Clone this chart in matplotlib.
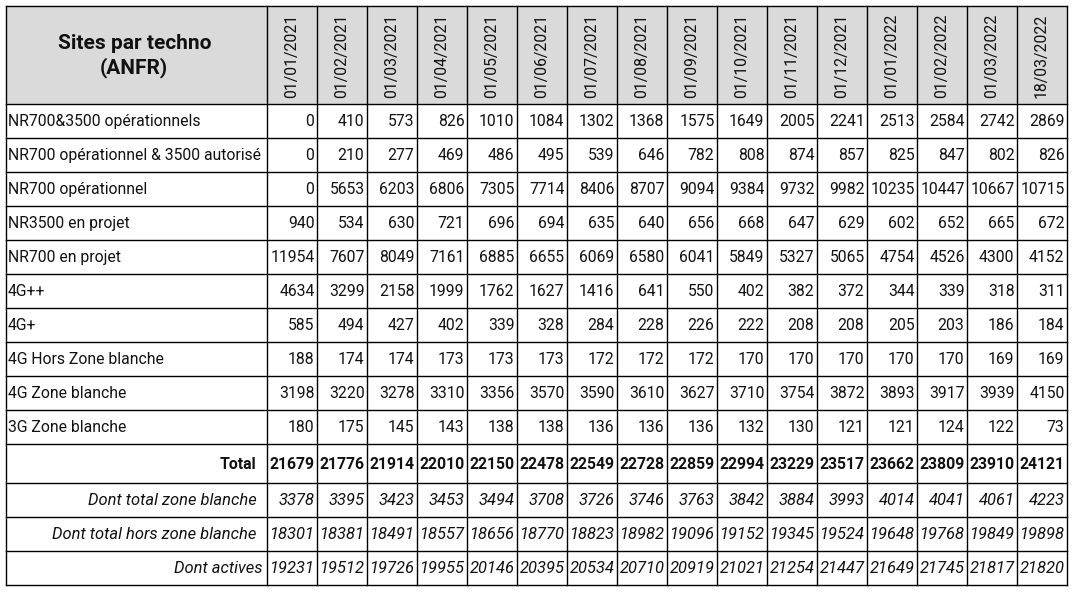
import matplotlib
matplotlib.use("Agg")
import matplotlib.pyplot as plt

title = "Sites par techno\n(ANFR)"
dates = ["01/01/2021", "01/02/2021", "01/03/2021", "01/04/2021", "01/05/2021",
         "01/06/2021", "01/07/2021", "01/08/2021", "01/09/2021", "01/10/2021",
         "01/11/2021", "01/12/2021", "01/01/2022", "01/02/2022", "01/03/2022",
         "18/03/2022"]

row_labels = ["NR700&3500 opérationnels", "NR700 opérationnel & 3500 autorisé",
              "NR700 opérationnel", "NR3500 en projet", "NR700 en projet",
              "4G++", "4G+", "4G Hors Zone blanche", "4G Zone blanche",
              "3G Zone blanche"]
nr700_3500_op = [0, 410, 573, 826, 1010, 1084, 1302, 1368, 1575, 1649, 2005, 2241, 2513, 2584, 2742, 2869]
nr700_op_3500_aut = [0, 210, 277, 469, 486, 495, 539, 646, 782, 808, 874, 857, 825, 847, 802, 826]
nr700_op = [0, 5653, 6203, 6806, 7305, 7714, 8406, 8707, 9094, 9384, 9732, 9982, 10235, 10447, 10667, 10715]
nr3500_projet = [940, 534, 630, 721, 696, 694, 635, 640, 656, 668, 647, 629, 602, 652, 665, 672]
nr700_projet = [11954, 7607, 8049, 7161, 6885, 6655, 6069, 6580, 6041, 5849, 5327, 5065, 4754, 4526, 4300, 4152]
g4pp = [4634, 3299, 2158, 1999, 1762, 1627, 1416, 641, 550, 402, 382, 372, 344, 339, 318, 311]
g4p = [585, 494, 427, 402, 339, 328, 284, 228, 226, 222, 208, 208, 205, 203, 186, 184]
g4_hors_zb = [188, 174, 174, 173, 173, 173, 172, 172, 172, 170, 170, 170, 170, 170, 169, 169]
g4_zb = [3198, 3220, 3278, 3310, 3356, 3570, 3590, 3610, 3627, 3710, 3754, 3872, 3893, 3917, 3939, 4150]
g3_zb = [180, 175, 145, 143, 138, 138, 136, 136, 136, 132, 130, 121, 121, 124, 122, 73]

total_label = "Total"
total = [21679, 21776, 21914, 22010, 22150, 22478, 22549, 22728, 22859, 22994, 23229, 23517, 23662, 23809, 23910, 24121]

sub_labels = ["Dont total zone blanche", "Dont total hors zone blanche", "Dont actives"]
dont_zb = [3378, 3395, 3423, 3453, 3494, 3708, 3726, 3746, 3763, 3842, 3884, 3993, 4014, 4041, 4061, 4223]
dont_hors_zb = [18301, 18381, 18491, 18557, 18656, 18770, 18823, 18982, 19096, 19152, 19345, 19524, 19648, 19768, 19849, 19898]
dont_actives = [19231, 19512, 19726, 19955, 20146, 20395, 20534, 20710, 20919, 21021, 21254, 21447, 21649, 21745, 21817, 21820]

body_rows = [nr700_3500_op, nr700_op_3500_aut, nr700_op, nr3500_projet, nr700_projet,
             g4pp, g4p, g4_hors_zb, g4_zb, g3_zb]
sub_rows = [dont_zb, dont_hors_zb, dont_actives]

# ---- layout (pixels) ----
W, H = 1076, 594
X0 = 6.0
LABEL_W = 260.5
COL_W = 50.0
Y0 = 6.0
HEAD_H = 98.0
ROW_H = 34.0
TOTAL_H = 39.3
FS = 11.3
FS_LABEL = 11.3
FS_IT = 11.9
FONT = "Roboto"

fig = plt.figure(figsize=(W / 100, H / 100), dpi=100)
ax = fig.add_axes([0, 0, 1, 1])
ax.set_xlim(0, W)
ax.set_ylim(H, 0)
ax.axis("off")

ncol = len(dates)
xl = X0 + LABEL_W
xr = xl + ncol * COL_W
col_edges = [xl + i * COL_W for i in range(ncol + 1)]

# rows: list of (top, height, label, values, style)
rows = []
y = Y0 + HEAD_H
for lab, vals in zip(row_labels, body_rows):
    rows.append((y, ROW_H, lab, vals, "normal"))
    y += ROW_H
rows.append((y, TOTAL_H, total_label, total, "bold"))
y += TOTAL_H
for lab, vals in zip(sub_labels, sub_rows):
    rows.append((y, ROW_H, lab, vals, "italic"))
    y += ROW_H
ybot = y

# header background
ax.add_patch(plt.Rectangle((X0, Y0), xr - X0, HEAD_H, facecolor="#dadada",
                           edgecolor="none", zorder=0))

lw = 1.0
hlines = [Y0, Y0 + HEAD_H] + [r[0] + r[1] for r in rows]
for yy in hlines:
    ax.plot([X0, xr], [yy, yy], color="black", lw=lw, solid_capstyle="projecting", zorder=3)
for xx in [X0] + col_edges:
    ax.plot([xx, xx], [Y0, ybot], color="black", lw=lw, solid_capstyle="projecting", zorder=3)

# header texts
ax.text((X0 + xl) / 2 - 2, Y0 + HEAD_H / 2 + 1, title, ha="center", va="center",
        fontsize=15, fontweight="bold", family=FONT, linespacing=1.3, color="#111111")
for i, d in enumerate(dates):
    cx = col_edges[i] + COL_W / 2
    ax.text(cx, Y0 + HEAD_H - 6.5, d, rotation=90, ha="center", va="bottom",
            fontsize=FS, family=FONT, color="#111111")

# body texts
for (top, h, lab, vals, style) in rows:
    cy = top + h / 2 + 0.5
    weight = "bold" if style == "bold" else "normal"
    fstyle = "italic" if style == "italic" else "normal"
    vfs = FS_IT if style == "italic" else FS
    if style == "normal":
        ax.text(X0 + 2.0, cy, lab, ha="left", va="center", fontsize=FS_LABEL,
                family=FONT, color="#111111")
    else:
        lx = xl - 4.0 if lab == "Dont actives" else xl - 10.0
        ax.text(lx, cy, lab, ha="right", va="center", fontsize=vfs,
                family=FONT, fontweight=weight, fontstyle=fstyle, color="#111111")
    for i, v in enumerate(vals):
        ax.text(col_edges[i + 1] - 2.0, cy, str(v), ha="right", va="center",
                fontsize=vfs, family=FONT, fontweight=weight, fontstyle=fstyle,
                color="#111111")

fig.savefig("out.png", dpi=100, facecolor="white")
